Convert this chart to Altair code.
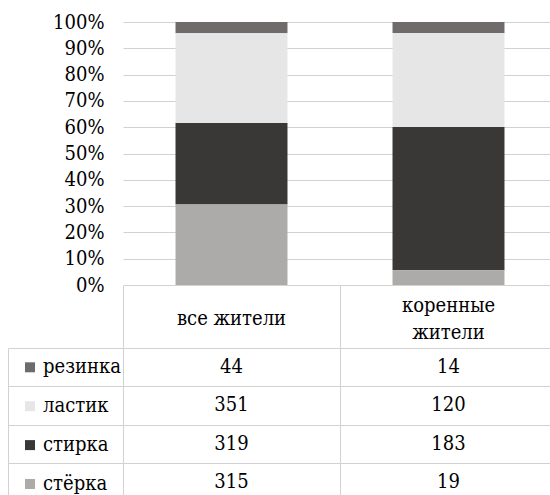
import altair as alt
import pandas as pd

# Survey data: which word people use for an eraser
groups = ["все жители", "коренные жители"]
series = ["резинка", "ластик", "стирка", "стёрка"]
all_residents = [44, 351, 319, 315]
native_residents = [14, 120, 183, 19]
shades = ["#6f6b6b", "#e6e6e6", "#3a3837", "#adaaaa"]

rows = []
for grp, vals in zip(groups, [all_residents, native_residents]):
    for i, (name, val) in enumerate(zip(series, vals)):
        rows.append({"group": grp, "series": name, "count": val,
                     "stack": len(series) - 1 - i})
df = pd.DataFrame(rows)

FONT = "'DejaVu Serif Condensed', 'DejaVu Serif', serif"
SIZE = 20
LINE = "#d2d2d2"
INK = "#000000"

# 100% stacked columns; the x-axis labels form the header row of the data table
bars = alt.Chart(df).mark_bar().encode(
    x=alt.X(
        "group:N", sort=groups,
        scale=alt.Scale(range=[0, 434], paddingInner=0.484, paddingOuter=0.242),
        axis=alt.Axis(orient="bottom", title=None, domain=False, ticks=False,
                      labelAngle=0, labelFont=FONT, labelFontSize=SIZE,
                      labelColor=INK, labelBaseline="middle",
                      labelLineHeight=27, labelLimit=400,
                      labelPadding={"condition": {"test": "length(datum.label) > 12",
                                                  "value": 20.5},
                                    "value": 33},
                      labelExpr="length(datum.label) > 12 ? split(datum.label, ' ') : datum.label"),
    ),
    y=alt.Y(
        "count:Q", stack="normalize", scale=alt.Scale(domain=[0, 1]),
        axis=alt.Axis(title=None, format=".0%",
                      values=[0, 0.1, 0.2, 0.3, 0.4, 0.5, 0.6, 0.7, 0.8, 0.9, 1.0],
                      domain=False, ticks=False, grid=True, gridColor=LINE,
                      labelFont=FONT, labelFontSize=SIZE, labelColor=INK,
                      labelPadding=19),
    ),
    color=alt.Color(
        "series:N", scale=alt.Scale(domain=series, range=shades),
        legend=alt.Legend(title=None, orient="none", legendX=-103, legendY=335.3,
                          symbolType="square", symbolSize=100, symbolStrokeWidth=0,
                          labelFont=FONT, labelFontSize=SIZE, labelColor=INK,
                          labelOffset=3, rowPadding=18.9, padding=0),
    ),
    order=alt.Order("stack:Q", sort="ascending"),
)

# Data table body: counts per cell, borders from axis ticks and grid lines
table = alt.Chart(df).mark_text(
    font=FONT, fontSize=SIZE, color=INK, baseline="middle", align="center"
).encode(
    x=alt.X(
        "group:N", sort=groups,
        scale=alt.Scale(range=[0, 434], paddingInner=0, paddingOuter=0),
        axis=alt.Axis(orient="bottom", title=None, labels=False, domain=False,
                      ticks=True, tickBand="extent", tickSize=210,
                      tickColor=LINE, grid=False),
    ),
    y=alt.Y(
        "series:N", sort=series,
        scale=alt.Scale(range=[326, 479.33], paddingInner=0, paddingOuter=0),
        axis=alt.Axis(orient="right", offset=-542, title=None, labels=False,
                      domain=True, domainColor=LINE, ticks=True,
                      tickBand="extent", tickSize=115, tickColor=LINE,
                      grid=True, gridColor=LINE),
    ),
    text="count:Q",
)

chart = (
    alt.layer(bars, table)
    .resolve_scale(x="independent", y="independent")
    .properties(width=427, height=263,
                padding={"left": 123, "top": 22, "right": 0, "bottom": 210},
                autosize=alt.AutoSizeParams(type="none"),
                background="white")
    .configure_view(stroke=None)
)

chart.save("out.html", embed_options={"renderer": "svg", "actions": False})
